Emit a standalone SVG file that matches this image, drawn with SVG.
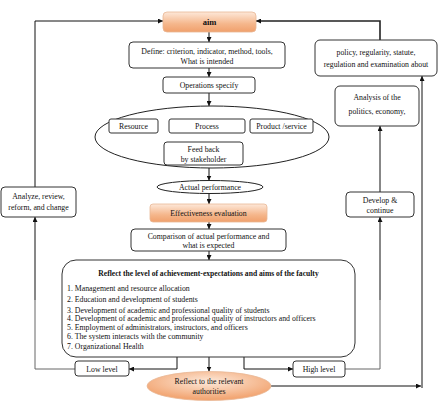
<svg xmlns="http://www.w3.org/2000/svg" width="444" height="415" viewBox="0 0 444 415">
<style>
text{font-family:"Liberation Serif","Times New Roman",serif;font-size:7.8px;fill:#111;text-anchor:middle}
.box{fill:#fff;stroke:#333;stroke-width:1}
.org{fill:url(#og);stroke:#e8b896;stroke-width:0.8}
.ln{fill:none;stroke:#111;stroke-width:1;marker-end:url(#ah)}
.gl{fill:none;stroke:#666;stroke-width:1}
.lst{text-anchor:start;font-size:7.8px}
</style>
<defs>
<linearGradient id="og" x1="0" y1="0" x2="0" y2="1">
<stop offset="0" stop-color="#fde8d9"/>
<stop offset="0.6" stop-color="#f5b68b"/>
<stop offset="1" stop-color="#f0a06c"/>
</linearGradient>
<radialGradient id="rg" cx="0.5" cy="0.35" r="0.6">
<stop offset="0" stop-color="#fde9da"/>
<stop offset="1" stop-color="#f2a572"/>
</radialGradient>
<marker id="ah" viewBox="0 0 10 10" refX="10" refY="5" markerWidth="5" markerHeight="5" markerUnits="userSpaceOnUse" orient="auto">
<path d="M0,0 L10,5 L0,10 z" fill="#111"/>
</marker>
</defs>
<g id="connectors">
<path class="ln" d="M209,32 V42"/>
<path class="ln" d="M209,68 V77"/>
<path class="ln" d="M209,93 V106"/>
<path class="ln" d="M158,126 H169"/>
<path class="ln" d="M245,126 H250"/>
<path class="ln" d="M164,150 L131,134"/>
<path class="ln" d="M282,133 L243,155"/>
<path class="ln" d="M209,168 V180.5"/>
<path class="ln" d="M209,194 V204"/>
<path class="ln" d="M209,222 V229"/>
<path class="ln" d="M209,251 V260"/>
<path class="ln" d="M209,357 V371.5"/>
<path class="ln" d="M177,357 V369 H129"/>
<path class="ln" d="M244,357 V369 H293"/>
<path class="gl" d="M75,369 H35 V300"/>
<path class="ln" d="M35,300 V217"/>
<path class="ln" d="M35,187 V21 H163"/>
<path class="gl" d="M345,369 H380 V300"/>
<path class="ln" d="M380,300 V217"/>
<path class="ln" d="M380,192 V126"/>
<path class="ln" d="M271,386 H421"/>
<path class="ln" d="M422,388 V76"/>
<path class="ln" style="stroke-width:1.6;stroke:#222" d="M380,40 V21 H256"/>
</g>
<g id="aim"><rect class="org" x="163" y="12" width="93" height="20" rx="4"/><text x="209.5" y="25" style="font-weight:bold;font-size:8.5px">aim</text></g>
<g id="define"><rect class="box" x="129" y="42" width="156" height="26" rx="4"/><text x="207" y="53.5">Define: criterion, indicator, method, tools,</text><text x="207" y="64">What is intended</text></g>
<g id="ops"><rect class="box" x="163" y="77" width="92" height="16" rx="3"/><text x="209" y="88">Operations specify</text></g>
<g id="system"><ellipse cx="212" cy="137" rx="117" ry="31" fill="#fff" stroke="#222" stroke-width="1"/></g>
<g id="resource"><rect class="box" x="109" y="119" width="49" height="14" rx="2"/><text x="133.5" y="129">Resource</text></g>
<g id="process"><rect class="box" x="169" y="119" width="76" height="14" rx="2"/><text x="207" y="129">Process</text></g>
<g id="product"><rect class="box" x="250" y="119" width="63" height="14" rx="2"/><text x="281.5" y="129">Product /service</text></g>
<g id="feedback"><rect class="box" x="164" y="142" width="79" height="23" rx="3"/><text x="203.5" y="152">Feed back</text><text x="203.5" y="161.5">by stakeholder</text></g>
<g id="actual"><ellipse cx="210" cy="187" rx="53" ry="6.5" fill="#fff" stroke="#222" stroke-width="1"/><text x="210" y="190">Actual performance</text></g>
<g id="effect"><rect class="org" x="150" y="204" width="117" height="18" rx="3"/><text x="208.5" y="216">Effectiveness evaluation</text></g>
<g id="comparison"><rect class="box" x="131" y="229" width="155" height="22" rx="4"/><text x="208.5" y="238.5">Comparison of actual performance and</text><text x="208.5" y="248">what is expected</text></g>
<g id="reflectbox"><rect class="box" x="62" y="260" width="293" height="97" rx="14"/>
<text x="208.5" y="276" style="font-weight:bold;font-size:7.6px">Reflect the level of achievement-expectations and aims of the faculty</text>
<text class="lst" x="67" y="291">1. Management and resource allocation</text>
<text class="lst" x="67" y="302">2. Education and development of students</text>
<text class="lst" x="67" y="313">3. Development of academic and  professional quality of students</text>
<text class="lst" x="67" y="321">4. Development of academic and professional quality of instructors and officers</text>
<text class="lst" x="67" y="330">5. Employment of administrators, instructors, and officers</text>
<text class="lst" x="67" y="339">6. The system interacts with the community</text>
<text class="lst" x="67" y="349">7. Organizational Health</text>
</g>
<g id="low"><rect class="box" x="75" y="361" width="54" height="15" rx="3"/><text x="102" y="372">Low level</text></g>
<g id="high"><rect class="box" x="293" y="361" width="52" height="16" rx="3"/><text x="319" y="372">High level</text></g>
<g id="authorities"><ellipse cx="209" cy="386" rx="62" ry="14.5" fill="url(#rg)" stroke="#e8b896" stroke-width="0.8"/><text x="209" y="384">Reflect to the relevant</text><text x="209" y="394">authorities</text></g>
<g id="analyze"><rect class="box" x="1" y="187" width="75" height="30" rx="4"/><text x="38.5" y="199">Analyze, review,</text><text x="38.5" y="210">reform, and change</text></g>
<g id="develop"><rect class="box" x="346" y="192" width="68" height="25" rx="4"/><text x="380" y="202.5">Develop &amp;</text><text x="380" y="212.5">continue</text></g>
<g id="analysis"><rect class="box" x="335" y="86" width="84" height="40" rx="5"/><text x="377" y="100">Analysis of the</text><text x="377" y="114">politics, economy,</text></g>
<g id="policy"><rect class="box" x="315" y="40" width="122" height="36" rx="5"/><text x="376" y="55">policy, regularity, statute,</text><text x="376" y="67">regulation and examination about</text></g>
</svg>
